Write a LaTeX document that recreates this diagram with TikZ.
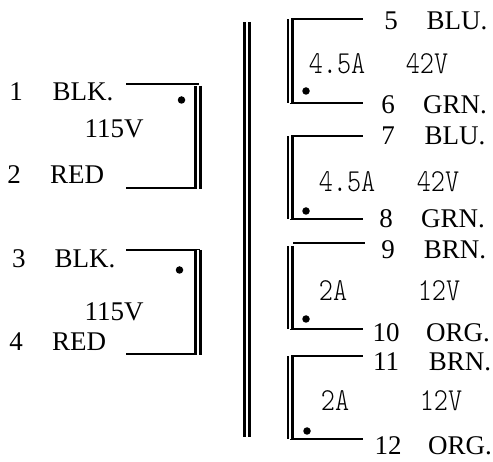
\documentclass[tikz,border=0pt]{standalone}
\usepackage{fontspec}
\setmainfont{Liberation Serif}
\newfontfamily\ratingfont[FakeStretch=0.84]{Latin Modern Mono Light}
\usepackage{xcolor}
\usepackage{tikz}

\begin{document}
\begin{tikzpicture}[
    x=1pt,y=-1pt,
    pin/.style={inner sep=0pt,font=\fontsize{27}{28}\selectfont},
    rating/.style={inner sep=0pt,font=\fontsize{32}{33}\ratingfont},
    dotmark/.style={circle,fill=black,inner sep=0pt,minimum size=7.5pt},
    lead/.style={line width=2.1pt},
    bar/.style={double,line width=2.7pt,double distance=2.2pt}
]
\useasboundingbox (0,0) rectangle (493,462);

% core
\coordinate (coretop) at (246.7,22);
\coordinate (corebot) at (246.7,437);
\draw[bar] (coretop) -- (corebot);

% primary 1-2
\coordinate (pa) at (126,84);
\coordinate (pb) at (126,188);
\coordinate (pc) at (199,84);
\coordinate (pd) at (201,188);
\coordinate (pe) at (198,86);
\coordinate (pf) at (198,189);
\draw[lead] (pa) -- (pc);
\draw[lead] (pb) -- (pd);
\draw[bar] (pe) -- (pf);
\node[dotmark] (dotp1) at (181.5,100) {};
\node[pin] (n1) at (16,92) {1};
\node[pin] (blk1) at (83,92) {BLK.};
\node[pin] (v115a) at (114,129) {115V};
\node[pin] (n2) at (14,175) {2};
\node[pin] (red2) at (77,175) {RED};

% primary 3-4
\coordinate (qa) at (126,250);
\coordinate (qb) at (126,354);
\coordinate (qc) at (200,250);
\coordinate (qd) at (201,354);
\coordinate (qe) at (198,250);
\coordinate (qf) at (198,355);
\draw[lead] (qa) -- (qc);
\draw[lead] (qb) -- (qd);
\draw[bar] (qe) -- (qf);
\node[dotmark] (dotp2) at (179.5,270) {};
\node[pin] (n3) at (19,259) {3};
\node[pin] (blk3) at (85,259) {BLK.};
\node[pin] (v115b) at (114,312) {115V};
\node[pin] (n4) at (16,342) {4};
\node[pin] (red4) at (79,342) {RED};

% secondary 5-6
\coordinate (ra) at (363,19);
\coordinate (rb) at (363,103);
\coordinate (rc) at (291,19);
\coordinate (rd) at (290,103);
\coordinate (re) at (290.3,19);
\coordinate (rf) at (290.3,103);
\draw[lead] (rc) -- (ra);
\draw[lead] (rd) -- (rb);
\draw[bar] (re) -- (rf);
\node[dotmark] (dots1) at (306,91) {};
\node[pin] (n5) at (391,21) {5};
\node[pin] (blu5) at (457,21) {BLU.};
\node[rating] (amp1) at (337,64) {4.5A};
\node[rating] (v42a) at (427,64) {42V};
\node[pin] (n6) at (388,105) {6};
\node[pin] (grn6) at (455,105) {GRN.};

% secondary 7-8
\coordinate (sa) at (363,136);
\coordinate (sb) at (363,219);
\coordinate (sc) at (291,136);
\coordinate (sd) at (290,219);
\coordinate (se) at (290.3,136);
\coordinate (sf) at (290.3,219);
\draw[lead] (sc) -- (sa);
\draw[lead] (sd) -- (sb);
\draw[bar] (se) -- (sf);
\node[dotmark] (dots2) at (306,211) {};
\node[pin] (n7) at (388,136) {7};
\node[pin] (blu7) at (455,136) {BLU.};
\node[rating] (amp2) at (347,182) {4.5A};
\node[rating] (v42b) at (438,182) {42V};
\node[pin] (n8) at (386,219) {8};
\node[pin] (grn8) at (453,219) {GRN.};

% secondary 9-10
\coordinate (ta) at (365,243);
\coordinate (tb) at (363,329);
\coordinate (tc) at (293,243);
\coordinate (td) at (290,329);
\coordinate (te) at (290.3,246);
\coordinate (tf) at (290.3,329);
\draw[lead] (tc) -- (ta);
\draw[lead] (td) -- (tb);
\draw[bar] (te) -- (tf);
\node[dotmark] (dots3) at (306,319) {};
\node[pin] (n9) at (388,250) {9};
\node[pin] (brn9) at (455,250) {BRN.};
\node[rating] (amp3) at (333,291) {2A};
\node[rating] (v12a) at (439,291) {12V};
\node[pin] (n10) at (386,333) {10};
\node[pin] (org10) at (458,333) {ORG.};

% secondary 11-12
\coordinate (ua) at (363,356);
\coordinate (ub) at (363,439);
\coordinate (uc) at (291,356);
\coordinate (ud) at (290,439);
\coordinate (ue) at (290.3,356);
\coordinate (uf) at (290.3,439);
\draw[lead] (uc) -- (ua);
\draw[lead] (ud) -- (ub);
\draw[bar] (ue) -- (uf);
\node[dotmark] (dots4) at (307,431) {};
\node[pin] (n11) at (386,362) {11};
\node[pin] (brn11) at (460,362) {BRN.};
\node[rating] (amp4) at (335,401) {2A};
\node[rating] (v12b) at (441,401) {12V};
\node[pin] (n12) at (388,446) {12};
\node[pin] (org12) at (460,446) {ORG.};

\end{tikzpicture}
\end{document}
